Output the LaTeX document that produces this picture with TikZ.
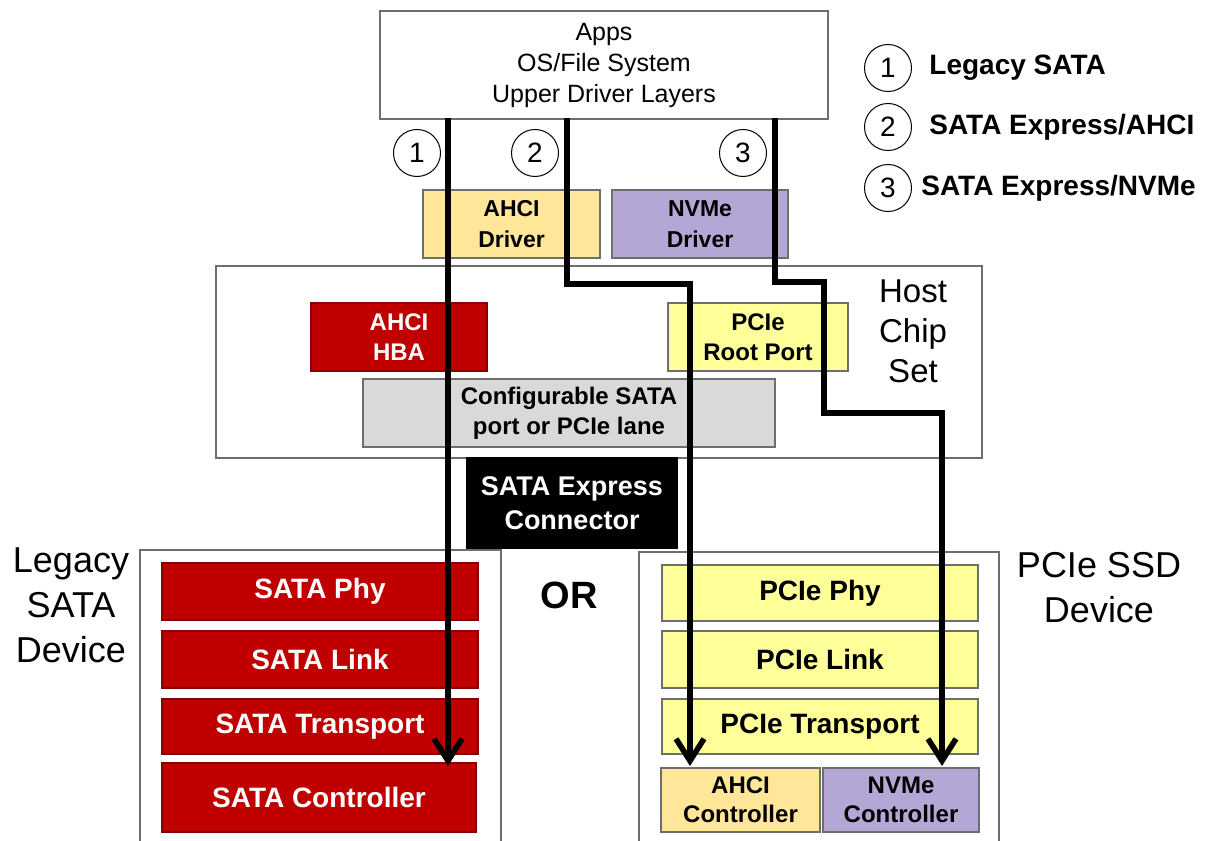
\documentclass[tikz,border=0pt]{standalone}
\usepackage{fontspec}
\setmainfont{Liberation Sans}
\usetikzlibrary{arrows.meta}
\definecolor{sred}{RGB}{192,0,0}
\definecolor{pyel}{RGB}{255,255,153}
\definecolor{aorg}{RGB}{255,230,153}
\definecolor{npur}{RGB}{180,167,214}
\definecolor{cgray}{RGB}{217,217,217}
\definecolor{edge}{RGB}{110,110,110}
\begin{document}
\begin{tikzpicture}[x=0.5pt,y=-0.5pt,
 frame/.style={draw=edge, line width=0.6pt, fill=white, inner sep=0pt},
 blk/.style={draw=edge, line width=0.6pt, inner sep=0pt, align=center, font=\bfseries\fontsize{12}{15}\selectfont},
 redrow/.style={blk, fill=sred, text=white, draw=sred!70!black, font=\bfseries\fontsize{14}{17}\selectfont},
 yelrow/.style={blk, fill=pyel, font=\bfseries\fontsize{14}{17}\selectfont},
 num/.style={circle, draw=black, line width=0.5pt, minimum size=23.5pt, inner sep=0pt, font=\fontsize{14}{16}\selectfont},
 legtext/.style={anchor=west, inner sep=0pt, font=\bfseries\fontsize{14}{16}\selectfont},
 biglabel/.style={align=center, inner sep=0pt, font=\fontsize{18}{22.5}\selectfont},
 flow/.style={line width=2.8pt, -{Straight Barb[length=11pt,width=14pt]}}
]
\clip (0,0) rectangle (1214,840);
\fill[white] (0,0) rectangle (1214,840);

% frames
\node[frame, minimum width=224pt, minimum height=54pt, align=center,
      font=\fontsize{12.5}{15.5}\selectfont] (top) at (604,65) {Apps\\OS/File System\\Upper Driver Layers};
\node[frame, minimum width=383pt, minimum height=96pt] (host) at (599,362) {};
\node[frame, minimum width=180.5pt, minimum height=150pt] (legacy) at (320.5,700) {};
\node[frame, minimum width=180pt, minimum height=149pt] (pcie) at (819,701) {};

% drivers
\node[blk, fill=aorg, minimum width=88.5pt, minimum height=34pt, font=\bfseries\fontsize{11.5}{15.5}\selectfont] (ahcidrv) at (511.5,224) {AHCI\\Driver};
\node[blk, fill=npur, minimum width=88pt, minimum height=34pt, font=\bfseries\fontsize{11.5}{15.5}\selectfont] (nvmedrv) at (700,224) {NVMe\\Driver};

% host chip set contents
\node[blk, fill=sred, draw=sred!70!black, text=white, minimum width=88pt, minimum height=34pt] (hba) at (399,337) {AHCI\\HBA};
\node[blk, fill=pyel, minimum width=90pt, minimum height=34pt] (root) at (758,337) {PCIe\\Root Port};
\node[blk, fill=cgray, minimum width=206pt, minimum height=34pt] (config) at (569,413) {Configurable SATA\\port or PCIe lane};
\node[biglabel, font=\fontsize{16.5}{20}\selectfont] (hosttext) at (913,331) {Host\\Chip\\Set};

% connector
\node[blk, fill=black, draw=black, text=white, minimum width=105pt, minimum height=45pt, font=\bfseries\fontsize{13.5}{17}\selectfont] (conn) at (572,503) {SATA Express\\Connector};

% legacy device
\node[redrow, minimum width=158pt, minimum height=28.5pt] (sphy) at (320,591.5) {SATA Phy};
\node[redrow, minimum width=158pt, minimum height=28.5pt] (slink) at (320,659.5) {SATA Link};
\node[redrow, minimum width=158pt, minimum height=27.5pt] (strans) at (320,726.5) {SATA Transport};
\node[redrow, minimum width=157pt, minimum height=34.5pt] (sctrl) at (319,797.5) {SATA Controller};
\node[biglabel] (legtxt) at (71,605) {Legacy\\SATA\\Device};

\node[inner sep=0pt, font=\bfseries\fontsize{19}{22}\selectfont] (or) at (569,595) {OR};

% pcie device
\node[yelrow, minimum width=158pt, minimum height=28pt] (pphy) at (820,593) {PCIe Phy};
\node[yelrow, minimum width=158pt, minimum height=28.5pt] (plink) at (820,659.5) {PCIe Link};
\node[yelrow, minimum width=158pt, minimum height=27.5pt] (ptrans) at (820,726.5) {PCIe Transport};
\node[blk, fill=aorg, minimum width=79.5pt, minimum height=32pt, font=\bfseries\fontsize{12}{14.5}\selectfont] (actrl) at (740.5,800) {AHCI\\Controller};
\node[blk, fill=npur, minimum width=78pt, minimum height=32pt, font=\bfseries\fontsize{12}{14.5}\selectfont] (nctrl) at (901,800) {NVMe\\Controller};
\node[biglabel] (pcietxt) at (1099,588) {PCIe SSD\\Device};

% flows
\coordinate (s1) at (448,118);
\coordinate (s2) at (567,118);
\coordinate (s3) at (775,118);
\draw[flow] (s1) -- (448,766);
\draw[flow] (s2) -- (567,284) -- (690,284) -- (690,766);
\draw[flow] (s3) -- (775,282) -- (824,282) -- (824,413) -- (942,413) -- (942,766);

% path numbers
\node[num] (c1) at (417,153) {1};
\node[num] (c2) at (535,153) {2};
\node[num] (c3) at (743,153) {3};

% legend
\node[num] (l1) at (888,68) {1};
\node[num] (l2) at (888,127) {2};
\node[num] (l3) at (888,188) {3};
\node[legtext] (t1) at (929,68) {Legacy SATA};
\node[legtext] (t2) at (929,127) {SATA Express/AHCI};
\node[legtext] (t3) at (921,188) {SATA Express/NVMe};
\end{tikzpicture}
\end{document}
